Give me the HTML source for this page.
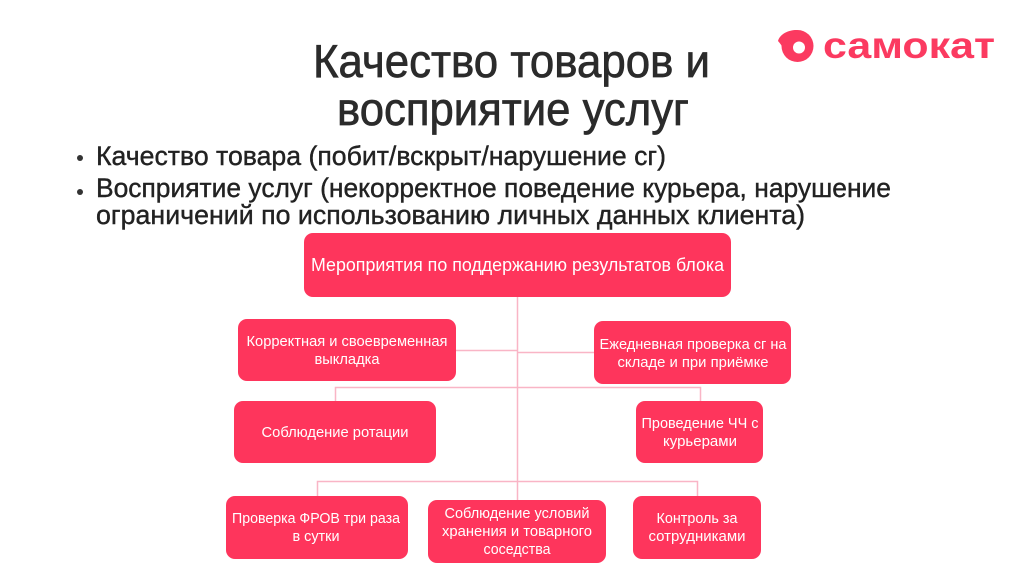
<!DOCTYPE html>
<html lang="ru"><head><meta charset="utf-8"><title>Качество товаров и восприятие услуг</title>
<style>
html,body{margin:0;padding:0;background:#fff;width:1024px;height:574px;overflow:hidden}
svg{display:block}
text{font-family:"Liberation Sans",sans-serif}
.h{font-size:46px;fill:#2b2b2b;stroke:#2b2b2b;stroke-width:.7px}
.b{font-size:27px;fill:#222;stroke:#222;stroke-width:.4px}
.n{font-size:15px;fill:#fff}
</style></head><body>
<svg width="1024" height="574" viewBox="0 0 1024 574" xmlns="http://www.w3.org/2000/svg">
<text class="h" x="313" y="77" textLength="397" lengthAdjust="spacingAndGlyphs">Качество товаров и</text>
<text class="h" x="337" y="125" textLength="352" lengthAdjust="spacingAndGlyphs">восприятие услуг</text>

<circle cx="80" cy="158" r="3" fill="#333"/>
<text class="b" x="96" y="165" textLength="570" lengthAdjust="spacingAndGlyphs">Качество товара (побит/вскрыт/нарушение сг)</text>
<circle cx="80" cy="192" r="3" fill="#333"/>
<text class="b" x="96" y="197" textLength="795" lengthAdjust="spacingAndGlyphs">Восприятие услуг (некорректное поведение курьера, нарушение</text>
<text class="b" x="96" y="224" textLength="709" lengthAdjust="spacingAndGlyphs">ограничений по использованию личных данных клиента)</text>

<g fill="none" stroke="#f9b5c6" stroke-width="1.5">
<path d="M517.500 297V500"/>
<path d="M456 350.500H517.500"/>
<path d="M517.500 352.500H594"/>
<path d="M335.500 401V387.500H700.500V401"/>
<path d="M317.500 496V481.500H697.500V496"/>
</g>

<g fill="#fe355c">
<rect x="304" y="233" width="427" height="64" rx="9"/>
<rect x="238" y="319" width="218" height="62" rx="9"/>
<rect x="594" y="321" width="197" height="63" rx="9"/>
<rect x="234" y="401" width="202" height="62" rx="9"/>
<rect x="636" y="401" width="127" height="62" rx="9"/>
<rect x="226" y="496" width="182" height="63" rx="9"/>
<rect x="428" y="500" width="178" height="63" rx="9"/>
<rect x="633" y="496" width="128" height="63" rx="9"/>
</g>

<g text-anchor="middle">
<text class="n" x="517.500" y="271" style="font-size:18.500px" textLength="413" lengthAdjust="spacingAndGlyphs">Мероприятия по поддержанию результатов блока</text>
<text class="n" x="347" y="346" textLength="201" lengthAdjust="spacingAndGlyphs">Корректная и своевременная</text>
<text class="n" x="347" y="364" textLength="65" lengthAdjust="spacingAndGlyphs">выкладка</text>
<text class="n" x="693" y="349" textLength="187" lengthAdjust="spacingAndGlyphs">Ежедневная проверка сг на</text>
<text class="n" x="693" y="367" textLength="151" lengthAdjust="spacingAndGlyphs">складе и при приёмке</text>
<text class="n" x="335" y="437" textLength="147" lengthAdjust="spacingAndGlyphs">Соблюдение ротации</text>
<text class="n" x="700" y="428" textLength="117" lengthAdjust="spacingAndGlyphs">Проведение ЧЧ с</text>
<text class="n" x="700" y="446" textLength="74" lengthAdjust="spacingAndGlyphs">курьерами</text>
<text class="n" x="316" y="523" textLength="168" lengthAdjust="spacingAndGlyphs">Проверка ФРОВ три раза</text>
<text class="n" x="316" y="541" textLength="47" lengthAdjust="spacingAndGlyphs">в сутки</text>
<text class="n" x="517" y="518" textLength="145" lengthAdjust="spacingAndGlyphs">Соблюдение условий</text>
<text class="n" x="517" y="536" textLength="150" lengthAdjust="spacingAndGlyphs">хранения и товарного</text>
<text class="n" x="517" y="554" textLength="67" lengthAdjust="spacingAndGlyphs">соседства</text>
<text class="n" x="697" y="523" textLength="81" lengthAdjust="spacingAndGlyphs">Контроль за</text>
<text class="n" x="697" y="541" textLength="97" lengthAdjust="spacingAndGlyphs">сотрудниками</text>
</g>

<!-- logo -->
<circle cx="797.500" cy="46" r="16" fill="#fb3a60"/>
<path fill="#fb3a60" d="M778 41C780 34 788 30 797 30L797 46L784 50C782 46 780 43 778 41Z"/>
<circle cx="799" cy="47.500" r="6" fill="#fff"/>
<text x="823" y="58" style="font-size:37px;font-weight:bold;fill:#fb3a60" textLength="172" lengthAdjust="spacingAndGlyphs">самокат</text>
</svg>
</body></html>
